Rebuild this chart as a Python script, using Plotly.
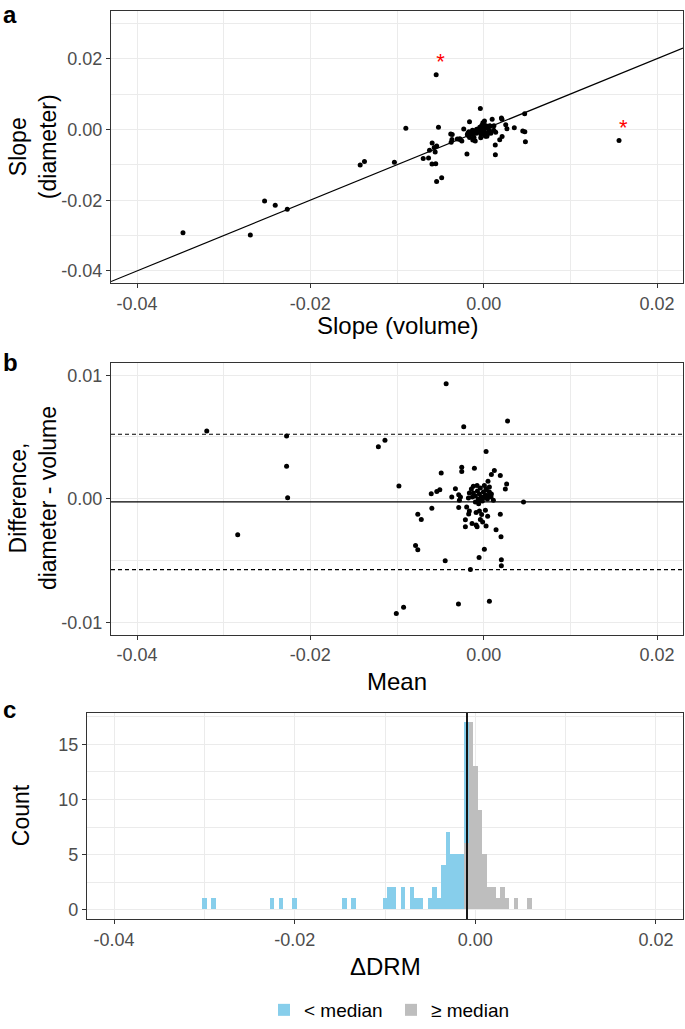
import plotly.graph_objects as go

# ---------------- data ----------------
# Panel b (Bland-Altman): mean of the two slopes and difference (diameter - volume)
ba_mean = [-0.03195, -0.02274, -0.02274, -0.02262, -0.02838, -0.01215, -0.01139, -0.00978, -0.01008, -0.00924,
           -0.00433, -0.00230, 0.00276, 0.00028, -0.00291, 0.00066, -0.00786, -0.00760, -0.00444, -0.00153,
           -0.00053, 0.00008, 0.00204, 0.00204, 0.00460, -0.00760, -0.00720, -0.00598, -0.00605, -0.00541,
           -0.00506, -0.00490, -0.00253, -0.00253, -0.00107, 0.00123, 0.00089, 0.00192, 0.00050, 0.00265,
           0.00250, -0.00368, -0.00326, -0.00288, -0.00268, -0.00280, -0.00288, -0.00196, -0.00165, -0.00173,
           -0.00211, -0.00211, -0.00134, -0.00087, -0.00076, -0.00038, -0.00012, 0.00028, 0.00143, 0.00200,
           0.00192, 0.00046, -0.00087, -0.00049, 0.00020, -0.00076, 0.00008, 0.00028, 0.00066, 0.00085,
           0.00112, -0.00142, -0.00119, -0.00096, -0.00072, -0.00049, -0.00026, -0.00003, 0.00020, 0.00043,
           0.00066, -0.00038, -0.00061, -0.00015, 0.00031, -0.00130, 0.00089, -0.00096, 0.00008, -0.00049,
           0.00054, -0.00119, -0.00165, -0.00176, -0.00058, -0.00023]
ba_diff = [0.00549, 0.00508, 0.00262, 0.00008, -0.00291, 0.00420, 0.00473, 0.00104, -0.00930, -0.00879,
           0.00930, 0.00583, 0.00629, 0.00383, -0.00852, -0.00831, -0.00379, -0.00414, -0.00502, -0.00574,
           -0.00476, -0.00409, -0.00494, -0.00542, -0.00026, -0.00125, -0.00168, -0.00077, 0.00040, 0.00059,
           0.00072, 0.00209, 0.00254, 0.00220, 0.00246, 0.00228, 0.00196, 0.00188, 0.00142, 0.00120,
           0.00078, 0.00014, 0.00080, 0.00032, 0.00014, -0.00013, -0.00072, -0.00067, -0.00099, -0.00123,
           -0.00171, -0.00227, -0.00200, -0.00213, -0.00227, -0.00168, -0.00189, -0.00221, -0.00251, -0.00307,
           -0.00125, -0.00141, -0.00112, -0.00099, -0.00093, 0.00107, 0.00107, 0.00080, 0.00054, 0.00014,
           -0.00013, 0.00078, 0.00046, 0.00022, 0.00062, 0.00038, 0.00014, 0.00054, 0.00030, -0.00002,
           0.00094, 0.00086, -0.00002, -0.00018, 0.00070, 0.00014, 0.00038, -0.00026, 0.00010, -0.00010,
           0.00026, 0.00102, 0.00046, 0.00006, -0.00040, -0.00128]

# Panel a: slope from volume vs slope from diameter (same measurements as panel b)
slope_volume = [-0.034695, -0.02528, -0.02405, -0.02266, -0.026925, -0.01425, -0.013755, -0.0103, -0.00543, -0.004845,
                -0.00898, -0.005215, -0.000385, -0.001635, 0.00135, 0.004815, -0.005965, -0.00553, -0.00193, 0.00134,
                0.00185, 0.002125, 0.00451, 0.00475, 0.00473, -0.006975, -0.00636, -0.005595, -0.00625, -0.005705,
                -0.00542, -0.005945, -0.0038, -0.00363, -0.0023, 0.00009, -0.00009, 0.00098, -0.00021, 0.00205,
                0.00211, -0.00375, -0.00366, -0.00304, -0.00275, -0.002735, -0.00252, -0.001625, -0.001155, -0.001115,
                -0.001255, -0.000975, -0.00034, 0.000195, 0.000375, 0.00046, 0.000825, 0.001385, 0.002685, 0.003535,
                0.002545, 0.001165, -0.00031, 0.000005, 0.000665, -0.001295, -0.000455, -0.00012, 0.00039, 0.00078,
                0.001185, -0.00181, -0.00142, -0.00107, -0.00103, -0.00068, -0.00033, -0.0003, 0.00005, 0.00044,
                0.00019, -0.00081, -0.0006, -0.00006, -0.00004, -0.00137, 0.0007, -0.00083, 0.00003, -0.00044,
                0.00041, -0.0017, -0.00188, -0.00179, -0.00038, 0.00041,
                -0.00548, 0.01562]
slope_diameter = [-0.029205, -0.0202, -0.02143, -0.02258, -0.029835, -0.01005, -0.009025, -0.00926, -0.01473, -0.013635,
                  0.00032, 0.000615, 0.005905, 0.002195, -0.00717, -0.003495, -0.009755, -0.00967, -0.00695, -0.0044,
                  -0.00291, -0.001965, -0.00043, -0.00067, 0.00447, -0.008225, -0.00804, -0.006365, -0.00585, -0.005115,
                  -0.0047, -0.003855, -0.00126, -0.00143, 0.00016, 0.00237, 0.00187, 0.00286, 0.00121, 0.00325,
                  0.00289, -0.00361, -0.00286, -0.00272, -0.00261, -0.002865, -0.00324, -0.002295, -0.002145, -0.002345,
                  -0.002965, -0.003245, -0.00234, -0.001935, -0.001895, -0.00122, -0.001065, -0.000825, 0.000175, 0.000465,
                  0.001295, -0.000245, -0.00143, -0.000985, -0.000265, -0.000225, 0.000615, 0.00068, 0.00093, 0.00092,
                  0.001055, -0.00103, -0.00096, -0.00085, -0.00041, -0.0003, -0.00019, 0.00024, 0.00035, 0.00042,
                  0.00113, 0.00005, -0.00062, -0.00024, 0.00066, -0.00123, 0.00108, -0.00109, 0.00013, -0.00054,
                  0.00067, -0.00068, -0.00142, -0.00173, -0.00078, -0.00087,
                  0.01543, -0.00309]
# flagged outliers (red asterisks)
outlier_volume = [-0.00548, 0.01562]
outlier_diameter = [0.01543, -0.00309]

# identity line (abline)
identity_slope = 1.0
identity_intercept = 0.0

# Bland-Altman bias and limits of agreement
ba_bias = -0.00026
ba_upper = 0.00522
ba_lower = -0.00574

# Panel c histogram of ΔDRM
bin_width = 0.0005
drm_median = -0.00092
lt_centers = [-0.0300, -0.0290, -0.0225, -0.0215, -0.0200, -0.0145, -0.0135, -0.0100, -0.0095, -0.0090,
              -0.0080, -0.0070, -0.0065, -0.0060, -0.0050, -0.0045, -0.0040, -0.0035, -0.0030, -0.0025,
              -0.0020, -0.0015, -0.0010]
lt_counts = [1, 1, 1, 1, 1, 1, 1, 1, 2, 2,
             2, 2, 1, 1, 1, 2, 1, 4, 7, 5,
             5, 5, 11]
ge_centers = [-0.0010, -0.0005, 0.0000, 0.0005, 0.0010, 0.0015, 0.0020, 0.0025, 0.0030, 0.0035, 0.0045, 0.0060]
ge_counts = [6, 17, 13, 9, 5, 2, 2, 1, 2, 1, 1, 1]

# tick labels
x_tickvals = [-0.04, -0.02, 0.0, 0.02]
x_ticktext = ["-0.04", "-0.02", "0.00", "0.02"]
x_minor = [-0.03, -0.01, 0.01]
ya_tickvals = [-0.04, -0.02, 0.0, 0.02]
ya_ticktext = ["-0.04", "-0.02", "0.00", "0.02"]
ya_minor = [-0.03, -0.01, 0.01, 0.03]
yb_tickvals = [-0.01, 0.0, 0.01]
yb_ticktext = ["-0.01", "0.00", "0.01"]
yb_minor = [-0.005, 0.005]
yc_tickvals = [0, 5, 10, 15]
yc_ticktext = ["0", "5", "10", "15"]
yc_minor = [2.5, 7.5, 12.5, 17.5]

# ---------------- figure ----------------
W, H = 685, 1029
FONT = "Liberation Sans, Arial, sans-serif"
BLUE = "#87CEEB"
GREY = "#BEBEBE"

x_range = [-0.043, 0.023]
ya_range = [-0.0435, 0.0335]
yb_range = [-0.011, 0.011]
yc_range = [-0.85, 17.85]


def px_x(p):
    return p / W


def px_y(p):
    return 1 - p / H


fig = go.Figure()

# panel a
fig.add_trace(go.Scatter(
    x=x_range, y=[identity_slope * v + identity_intercept for v in x_range],
    mode="lines", line=dict(color="black", width=1.2), xaxis="x", yaxis="y",
    showlegend=False, hoverinfo="skip"))
fig.add_trace(go.Scatter(
    x=slope_volume, y=slope_diameter, mode="markers",
    marker=dict(color="black", size=5), xaxis="x", yaxis="y", showlegend=False))
fig.add_trace(go.Scatter(
    x=outlier_volume, y=outlier_diameter, mode="text", text=["*"] * len(outlier_volume),
    textposition="top right", textfont=dict(color="red", size=22, family=FONT),
    xaxis="x", yaxis="y", showlegend=False))

# panel b
fig.add_trace(go.Scatter(
    x=ba_mean, y=ba_diff, mode="markers",
    marker=dict(color="black", size=5), xaxis="x2", yaxis="y2", showlegend=False))

# panel c (stacked histogram bars)
fig.add_trace(go.Bar(
    x=ge_centers, y=ge_counts, width=[bin_width] * len(ge_centers),
    marker=dict(color=GREY, line=dict(width=0)), name="≥ median",
    xaxis="x3", yaxis="y3", legendrank=2))
fig.add_trace(go.Bar(
    x=lt_centers, y=lt_counts, width=[bin_width] * len(lt_centers),
    marker=dict(color=BLUE, line=dict(width=0)), name="< median",
    xaxis="x3", yaxis="y3", legendrank=1))

TICK = 18


def axis(domain, rng, tickvals, ticktext, minor, anchor):
    return dict(
        domain=domain, range=rng, anchor=anchor,
        tickmode="array", tickvals=tickvals, ticktext=ticktext,
        showline=True, mirror=True, linecolor="#333333", linewidth=1.1,
        ticks="outside", ticklen=4, tickwidth=1.1, tickcolor="#333333",
        showgrid=True, gridcolor="#EBEBEB", gridwidth=1.3, zeroline=False,
        tickfont=dict(size=TICK, color="#4D4D4D", family=FONT),
        minor=dict(tickvals=minor, showgrid=True, gridcolor="#EBEBEB", gridwidth=0.7, ticks=""),
    )


xa_dom = [px_x(111), px_x(683)]
xc_dom = [px_x(87), px_x(683)]
ya_dom = [px_y(285), px_y(11)]
yb_dom = [px_y(638.3), px_y(365)]
yc_dom = [px_y(924.3), px_y(717.3)]

shapes = [
    dict(type="line", xref="x2 domain", yref="y2", x0=0, x1=1, y0=ba_bias, y1=ba_bias,
         line=dict(color="black", width=1.2)),
    dict(type="line", xref="x2 domain", yref="y2", x0=0, x1=1, y0=ba_upper, y1=ba_upper,
         line=dict(color="black", width=1.1, dash="4px,3px")),
    dict(type="line", xref="x2 domain", yref="y2", x0=0, x1=1, y0=ba_lower, y1=ba_lower,
         line=dict(color="black", width=1.1, dash="4px,3px")),
    dict(type="line", xref="x3", yref="y3 domain", x0=drm_median, x1=drm_median, y0=0, y1=1,
         line=dict(color="black", width=1.8)),
]

title_font = dict(size=23, color="black", family=FONT)
xtitle_font = dict(size=24, color="black", family=FONT)
label_font = dict(size=24, color="black", family=FONT)
annotations = [
    dict(text="<b>a</b>", x=px_x(1), y=px_y(15), xanchor="left", yanchor="middle", font=label_font),
    dict(text="<b>b</b>", x=px_x(1), y=px_y(364.5), xanchor="left", yanchor="middle", font=label_font),
    dict(text="<b>c</b>", x=px_x(1), y=px_y(713.5), xanchor="left", yanchor="middle", font=label_font),
    dict(text="Slope (volume)", x=px_x(397), y=px_y(327), xanchor="center", yanchor="middle", font=xtitle_font),
    dict(text="Mean", x=px_x(397), y=px_y(685), xanchor="center", yanchor="middle", font=xtitle_font),
    dict(text="ΔDRM", x=px_x(385), y=px_y(972), xanchor="center", yanchor="middle", font=xtitle_font),
    dict(text="Slope<br>(diameter)", x=px_x(33), y=px_y(148), xanchor="center", yanchor="middle",
         textangle=-90, font=title_font),
    dict(text="Difference,<br>diameter - volume", x=px_x(33), y=px_y(501), xanchor="center",
         yanchor="middle", textangle=-90, font=title_font),
    dict(text="Count", x=px_x(21), y=px_y(820), xanchor="center", yanchor="middle",
         textangle=-90, font=title_font),
]
for a in annotations:
    a.update(xref="paper", yref="paper", showarrow=False)

fig.update_layout(
    width=W, height=H, autosize=False,
    margin=dict(l=0, r=0, t=0, b=0),
    paper_bgcolor="white", plot_bgcolor="white",
    font=dict(family=FONT, color="black"),
    barmode="stack", bargap=0,
    xaxis=axis(xa_dom, x_range, x_tickvals, x_ticktext, x_minor, "y"),
    yaxis=axis(ya_dom, ya_range, ya_tickvals, ya_ticktext, ya_minor, "x"),
    xaxis2=axis(xa_dom, x_range, x_tickvals, x_ticktext, x_minor, "y2"),
    yaxis2=axis(yb_dom, yb_range, yb_tickvals, yb_ticktext, yb_minor, "x2"),
    xaxis3=axis(xc_dom, x_range, x_tickvals, x_ticktext, x_minor, "y3"),
    yaxis3=axis(yc_dom, yc_range, yc_tickvals, yc_ticktext, yc_minor, "x3"),
    shapes=shapes,
    annotations=annotations,
    legend=dict(orientation="h", x=px_x(391), xanchor="center", y=px_y(1016), yanchor="middle",
                font=dict(size=19, color="black", family=FONT), traceorder="normal",
                entrywidth=82, entrywidthmode="pixels",
                itemsizing="constant", bgcolor="rgba(0,0,0,0)"),
    hovermode=False,
)

fig.write_html("out.html", config={"displayModeBar": False},
               post_script="document.body.style.margin='0px';document.body.style.overflow='hidden';")
